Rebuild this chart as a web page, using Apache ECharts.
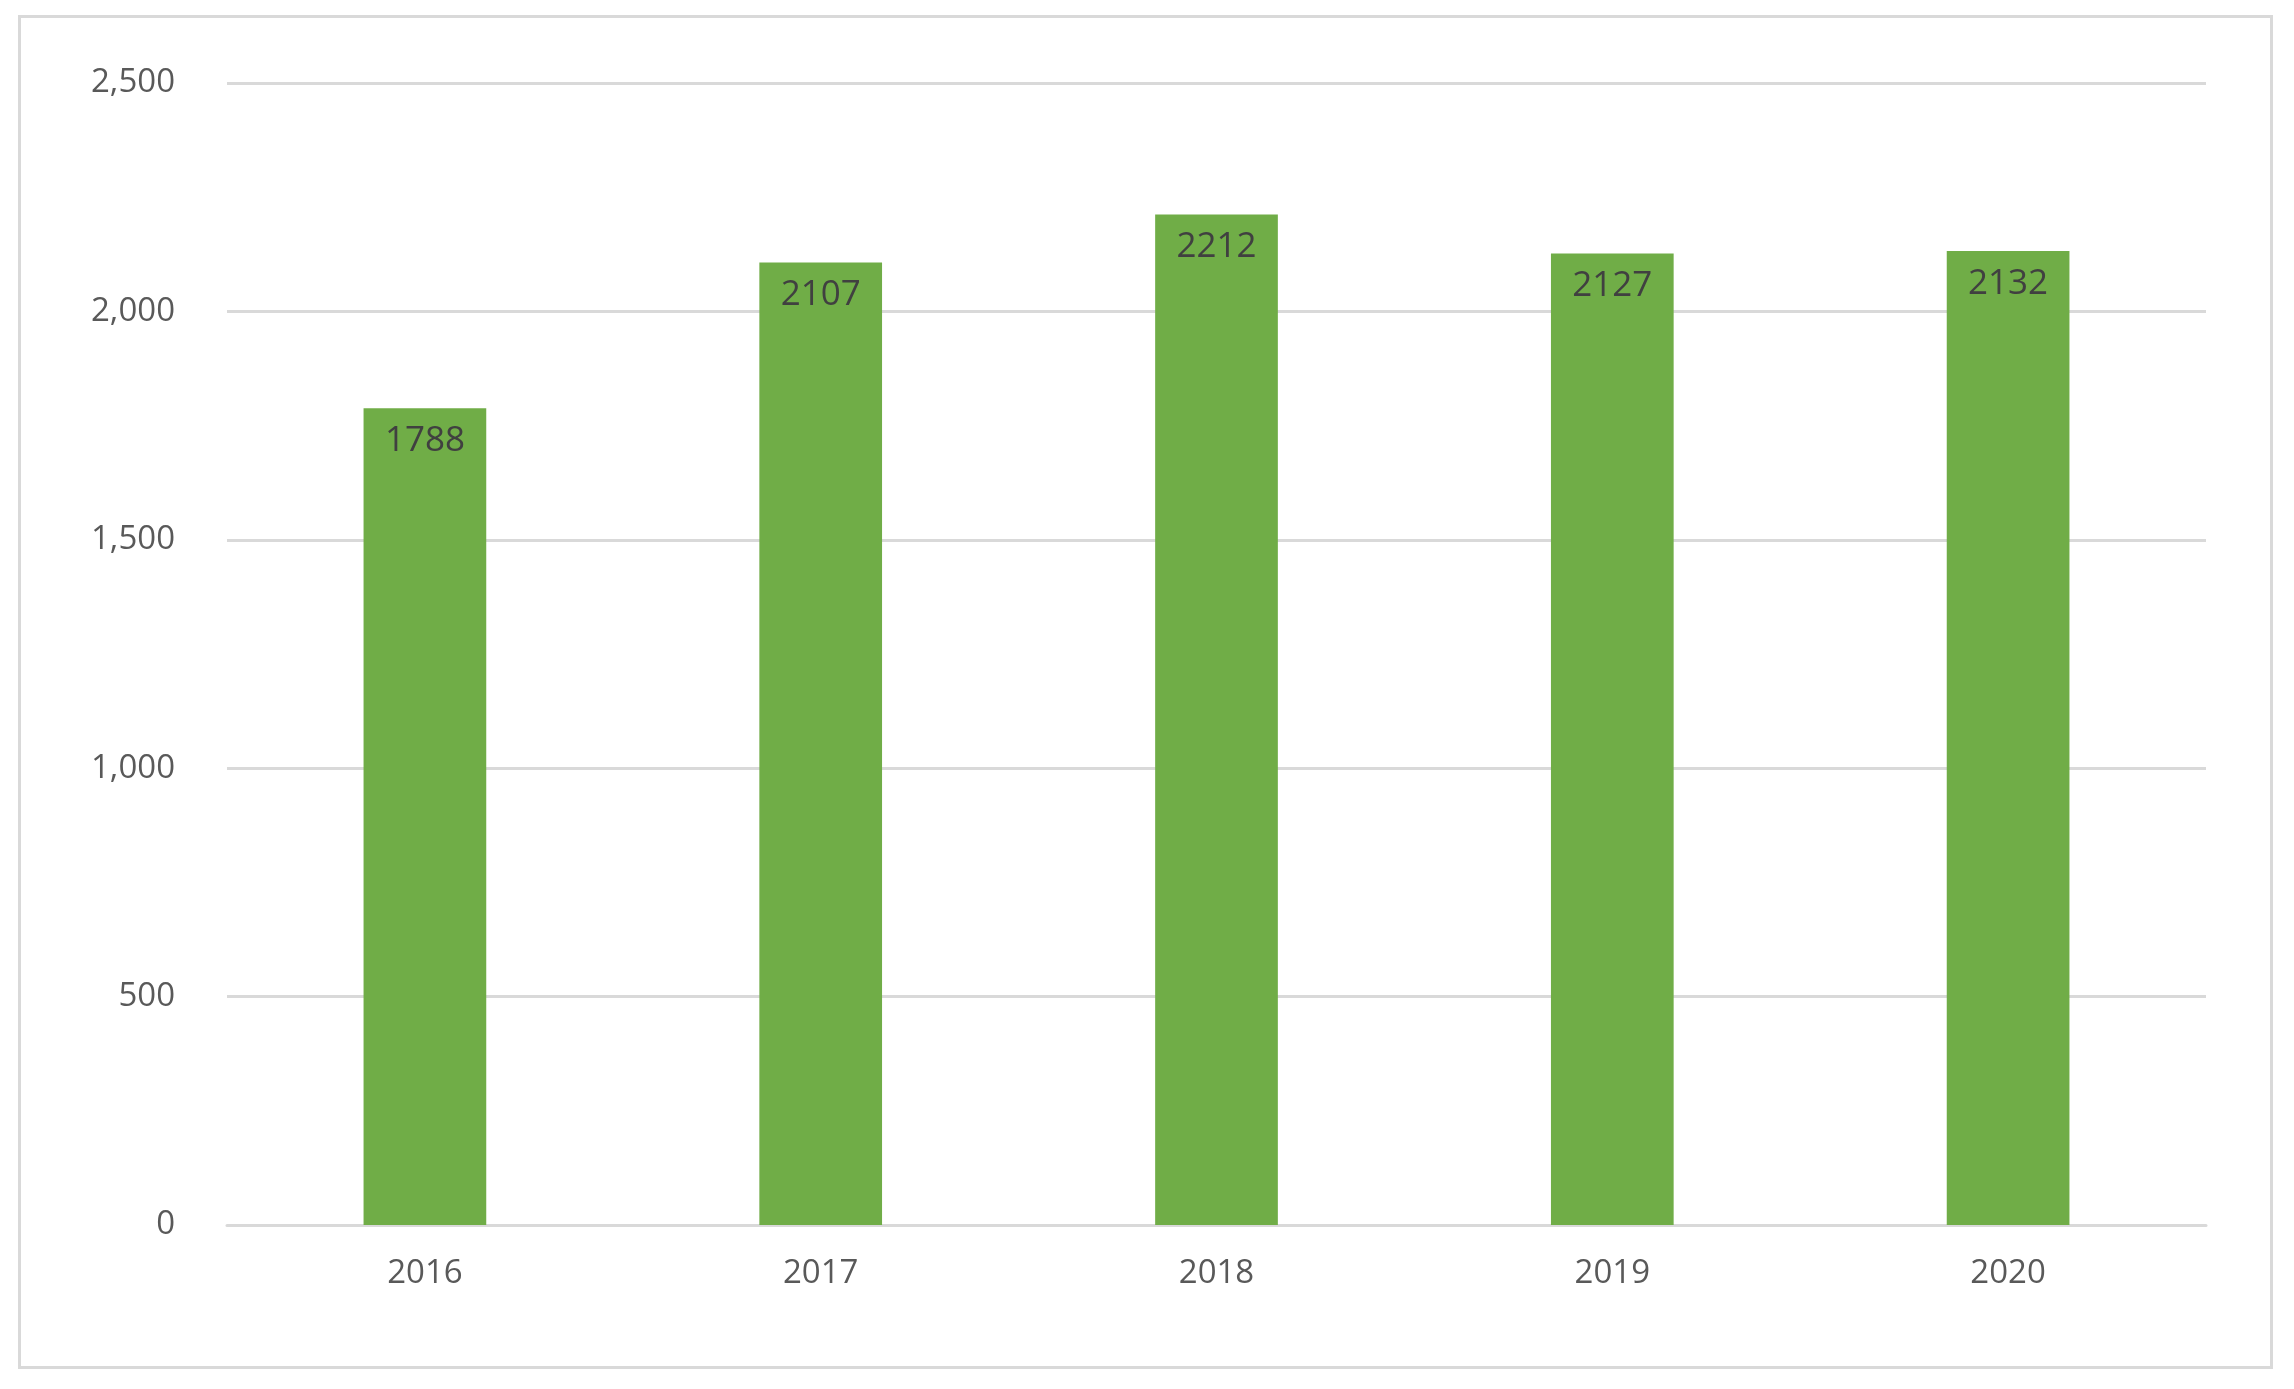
<!DOCTYPE html>
<html><head><meta charset="utf-8">
<script src="https://cdn.jsdelivr.net/npm/echarts@6/dist/echarts.min.js"></script>
<style>html,body{margin:0;padding:0;background:#fff}#c{width:2294px;height:1389px}
#b{position:absolute;left:18px;top:15px;width:2255px;height:1354px;border:3px solid #d9d9d9;box-sizing:border-box;pointer-events:none}</style>
</head><body><div id="c"></div><div id="b"></div>
<script>
const categories = ['2016','2017','2018','2019','2020'];
const values = [1788, 2107, 2212, 2127, 2132];
const yTicks = [0, 500, 1000, 1500, 2000, 2500];
const chart = echarts.init(document.getElementById('c'));
chart.setOption({
  animation:false,
  grid:{left:227,right:88,top:83,bottom:164,containLabel:false},
  xAxis:{type:'category',data:categories,
    axisLine:{lineStyle:{color:'#d9d9d9',width:3}},axisTick:{show:false},
    axisLabel:{color:'#595959',fontSize:33,fontFamily:'Open Sans',margin:32}},
  yAxis:{type:'value',min:yTicks[0],max:yTicks[yTicks.length-1],interval:500,
    axisLine:{show:false},axisTick:{show:false},
    splitLine:{lineStyle:{color:'#d9d9d9',width:3}},
    axisLabel:{color:'#595959',fontSize:33,fontFamily:'Open Sans',margin:52}},
  series:[{type:'bar',data:values,barWidth:'31%',itemStyle:{color:'#70ad47'},
    label:{show:true,position:'insideTop',color:'#404040',fontSize:35,fontFamily:'Open Sans',offset:[0,10]}}]
});
</script></body></html>
